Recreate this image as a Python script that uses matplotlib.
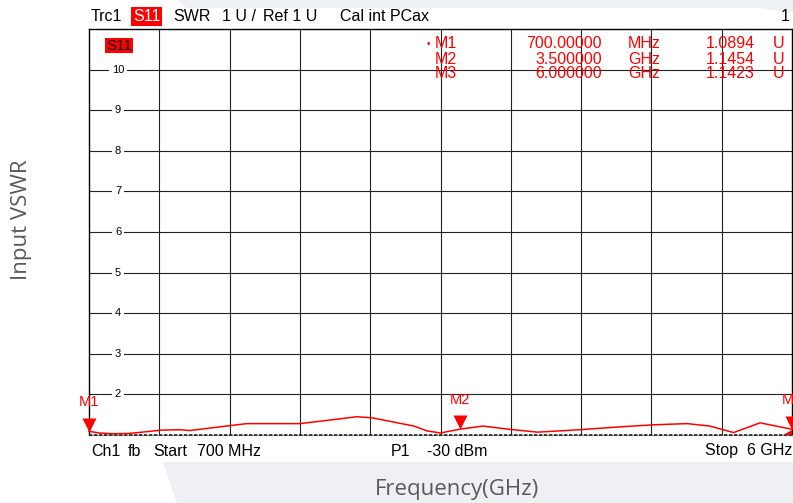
import numpy as np
import matplotlib
matplotlib.use("Agg")
import matplotlib.pyplot as plt
import matplotlib.transforms as mtransforms
from matplotlib.patches import Polygon

plt.rcParams['font.family'] = ['Liberation Sans', 'DejaVu Sans']

# trace (GHz, VSWR)
freq = [0.70, 0.78, 0.88, 1.01, 1.13, 1.24, 1.39, 1.46, 1.76, 1.89, 2.29, 2.52,
        2.72, 2.84, 3.15, 3.25, 3.35, 3.50, 3.67, 3.87, 4.08, 4.40, 4.70, 4.95,
        5.21, 5.38, 5.56, 5.76, 5.91, 6.00]
vswr = [1.089, 1.05, 1.03, 1.04, 1.08, 1.12, 1.13, 1.11, 1.23, 1.28, 1.28, 1.37,
        1.45, 1.42, 1.22, 1.10, 1.05, 1.145, 1.22, 1.14, 1.07, 1.13, 1.20, 1.25,
        1.28, 1.22, 1.06, 1.30, 1.20, 1.142]

marker_names = ["M1", "M2", "M3"]
marker_freq = [0.70, 3.50, 6.00]
marker_val = [1.0894, 1.1454, 1.1423]
marker_stim = ["700.00000", "3.500000", "6.000000"]
marker_unit = ["MHz", "GHz", "GHz"]

y_ticks = [2, 3, 4, 5, 6, 7, 8, 9, 10]
f_start, f_stop = 0.7, 6.0

W, H = 793, 503
fig = plt.figure(figsize=(W / 100, H / 100), dpi=100)
fig.patch.set_facecolor("white")

# light grey slide background showing around the screenshot
bg = "#eff0f4"
fig.patches.append(Polygon([(163 / W, 1 - 462 / H), (1, 1 - 462 / H), (1, 0), (177 / W, 0)],
                           closed=True, transform=fig.transFigure, fc=bg, ec="none", zorder=0))
fig.patches.append(Polygon([(178 / W, 1), (1, 1), (1, 1 - 13 / H), (760 / W, 1 - 8 / H), (186 / W, 1 - 8 / H)],
                           closed=True, transform=fig.transFigure, fc=bg, ec="none", zorder=0))

ax = fig.add_axes([89 / W, 1 - 435 / H, 703 / W, 406 / H])
ax.set_xlim(f_start, f_stop)
ax.set_ylim(1, 11)

grid_c = "#222222"
for k in range(1, 10):
    ax.axvline(f_start + k * (f_stop - f_start) / 10, color=grid_c, lw=0.8, zorder=1)
for v in y_ticks:
    ax.axhline(v, color=grid_c, lw=0.8, zorder=1)
    ax.text(29 / 703, v, str(v), transform=ax.get_yaxis_transform(), fontsize=8,
            ha="center", va="center", zorder=2,
            bbox=dict(boxstyle="square,pad=0.25", fc="white", ec="none"))

ax.set_xticks([])
ax.set_yticks([])
for s in ["left", "right", "top"]:
    ax.spines[s].set_color("black")
    ax.spines[s].set_linewidth(1.0)
ax.spines["bottom"].set_color("#999999")
ax.axhline(1, color="#222222", lw=1.2, ls=(0, (2, 1)), zorder=3, clip_on=False)

ax.plot(freq, vswr, color="#ff0000", lw=1.1, zorder=4, clip_on=False)

# markers
off = mtransforms.offset_copy(ax.transData, fig=fig, x=0, y=4.8, units="points")
for name, f, v in zip(marker_names, marker_freq, marker_val):
    ax.plot([f], [v], marker="v", ms=9.6, color="#ff0000", mec="none",
            transform=off, clip_on=False, zorder=5)
    ax.annotate(name, (f, v), xytext=(0, 16), textcoords="offset points",
                ha="center", va="bottom", color="#ff0000", fontsize=10.5, zorder=5,
                annotation_clip=False)

# small out-of-range arrow in the lower right corner
ax.add_patch(Polygon([(783 / 703 - 89 / 703, 0.0), (1.0, 0.0), (1.0, 5 / 406)],
                     closed=True, transform=ax.transAxes, fc="#ff0000", ec="none",
                     clip_on=False, zorder=5))

# plot label box
fig.text(106 / W, 1 - 45.5 / H, "S11", fontsize=11, color="black", va="center",
         bbox=dict(boxstyle="square,pad=0.05", fc="#ff0000", ec="none"))

# header line
hy = 1 - 16.5 / H
fs = 11.5
fig.text(91 / W, hy, "Trc1", fontsize=fs, va="center")
fig.text(133 / W, hy, "S11", fontsize=fs, va="center", color="white",
         bbox=dict(boxstyle="square,pad=0.1", fc="#ff0000", ec="none"))
fig.text(173 / W, hy, "SWR", fontsize=fs, va="center")
fig.text(222 / W, hy, "1 U /", fontsize=fs, va="center")
fig.text(263 / W, hy, "Ref 1 U", fontsize=fs, va="center")
fig.text(340 / W, hy, "Cal int PCax", fontsize=fs, va="center")
fig.text(790 / W, hy, "1", fontsize=fs, va="center", ha="right")

# marker table
fig.text(428 / W, 1 - 44 / H, "\u2022", fontsize=7, color="#ff0000", va="center", ha="center")
for i in range(3):
    ty = 1 - (44 + 15 * i) / H
    fig.text(435 / W, ty, marker_names[i], fontsize=fs, color="#ff0000", va="center")
    fig.text(602 / W, ty, marker_stim[i], fontsize=fs, color="#ff0000", va="center", ha="right")
    fig.text(628 / W, ty, marker_unit[i], fontsize=fs, color="#ff0000", va="center")
    fig.text(755 / W, ty, "%.4f" % marker_val[i], fontsize=fs, color="#ff0000", va="center", ha="right")
    fig.text(773 / W, ty, "U", fontsize=fs, color="#ff0000", va="center")

# footer line
by = 1 - 451 / H
for x, s in [(91, "Ch1"), (128, "fb"), (153, "Start"), (197, "700 MHz"),
             (391, "P1"), (427, "-30 dBm")]:
    fig.text(x / W, by, s, fontsize=fs, va="center")
fig.text(792 / W, by, "Stop  6 GHz", fontsize=fs, va="center", ha="right")

# slide axis titles
fig.text(22 / W, 1 - 220 / H, "Input VSWR", rotation=90, fontsize=16, color="#595959",
         ha="center", va="center", family="Open Sans")
fig.text(457 / W, 1 - 490 / H, "Frequency(GHz)", fontsize=16, color="#595959",
         ha="center", va="center", family="Open Sans")

fig.savefig("out.png", dpi=100)
